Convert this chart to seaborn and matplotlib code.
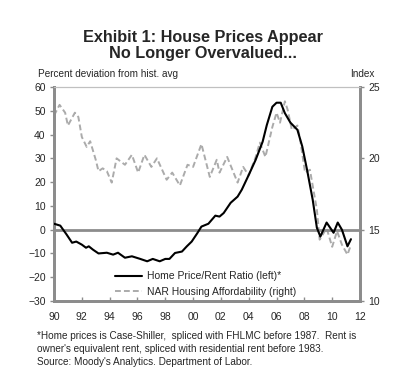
import matplotlib
matplotlib.use("Agg")
import matplotlib.pyplot as plt
import seaborn as sns
import pandas as pd

# Home price / rent ratio, % deviation from historical average (left axis)
ratio_years = [1990.0, 1990.45, 1990.9, 1991.3, 1991.6, 1992.0, 1992.3, 1992.5, 1992.8,
               1993.2, 1993.8, 1994.25, 1994.6, 1995.1, 1995.6, 1996.2, 1996.7, 1997.1,
               1997.6, 1998.0, 1998.3, 1998.7, 1999.2, 1999.55, 1999.9, 2000.3, 2000.6,
               2001.1, 2001.6, 2001.9, 2002.2, 2002.7, 2003.2, 2003.5, 2004.0, 2004.5,
               2005.0, 2005.3, 2005.7, 2006.0, 2006.3, 2006.6, 2007.0, 2007.5, 2007.85,
               2008.2, 2008.6, 2008.9, 2009.15, 2009.6, 2010.1, 2010.4, 2010.7, 2011.1,
               2011.35]
ratio_vals = [2.5, 1.7, -2.0, -5.5, -5.0, -6.3, -7.6, -7.0, -8.4,
              -10.0, -9.7, -10.5, -9.7, -11.8, -11.2, -12.3, -13.3, -12.3,
              -13.3, -12.3, -12.3, -9.8, -9.2, -7.0, -5.0, -1.5, 1.3,
              2.5, 5.9, 5.5, 7.0, 11.3, 13.9, 16.8, 23.0, 29.4,
              37.0, 44.0, 51.7, 53.4, 53.4, 49.0, 45.0, 42.0, 35.0,
              25.0, 12.6, 0.8, -2.9, 3.0, -1.3, 3.0, 0.0, -7.0,
              -4.0]

# NAR housing affordability index (right axis)
nar_years = [1990.0, 1990.4, 1990.8, 1991.0, 1991.5, 1991.75, 1992.0, 1992.35, 1992.6,
             1993.0, 1993.2, 1993.5, 1993.8, 1994.15, 1994.5, 1995.1, 1995.6, 1996.05,
             1996.5, 1997.0, 1997.4, 1998.1, 1998.5, 1999.05, 1999.6, 2000.0, 2000.6,
             2001.2, 2001.7, 2001.9, 2002.45, 2003.2, 2003.6, 2004.0, 2004.5, 2004.8,
             2005.2, 2005.7, 2006.0, 2006.25, 2006.6, 2006.8, 2007.1, 2007.5, 2007.7,
             2008.05, 2008.4, 2008.9, 2009.1, 2009.6, 2010.0, 2010.35, 2010.7, 2011.1,
             2011.3]
nar_vals = [23.0, 23.75, 23.2, 22.3, 23.2, 22.9, 21.5, 20.8, 21.2,
            19.9, 19.1, 19.3, 19.1, 18.3, 20.0, 19.55, 20.25, 19.0,
            20.25, 19.4, 20.0, 18.5, 19.0, 18.1, 19.55, 19.4, 21.0,
            18.7, 19.9, 19.0, 20.1, 18.3, 19.4, 18.8, 20.1, 21.1,
            20.1, 22.2, 23.2, 22.5, 24.0, 23.4, 22.0, 22.3, 21.3,
            19.0, 19.2, 16.4, 14.3, 15.1, 13.8, 14.9, 13.95, 13.25,
            13.8]

x_ticks = list(range(1990, 2013, 2))
x_labels = [f"{y % 100:02d}" for y in x_ticks]

sns.set_style("white")
plt.rcParams["font.family"] = ["Liberation Sans", "DejaVu Sans"]

ratio_df = pd.DataFrame({"year": ratio_years, "value": ratio_vals})
nar_df = pd.DataFrame({"year": nar_years, "value": nar_vals})

fig = plt.figure(figsize=(3.98, 3.80), dpi=100)
ax = fig.add_axes([0.1357, 0.2079, 0.7688, 0.5631])
ax2 = ax.twinx()

grid_col = "#8c8c8c"
ax.axhline(0, color=grid_col, lw=2, zorder=1)

sns.lineplot(data=nar_df, x="year", y="value", ax=ax2, color="#ababab",
             lw=1.4, linestyle=(0, (3, 1.6)), zorder=2)
sns.lineplot(data=ratio_df, x="year", y="value", ax=ax, color="black",
             lw=1.5, zorder=3)
ax.set_zorder(ax2.get_zorder() + 1)
ax.patch.set_visible(False)

ax.set_xlim(1990, 2012)
ax.set_ylim(-30, 60)
ax2.set_ylim(10, 25)
ax.set_yticks(range(-30, 61, 10))
ax2.set_yticks([10, 15, 20, 25])
ax.set_xticks(x_ticks)
ax.set_xticklabels(x_labels)
ax.set_xlabel("")
ax.set_ylabel("")
ax2.set_ylabel("")

for a in (ax, ax2):
    for side in ("left", "right", "bottom"):
        a.spines[side].set_color(grid_col)
        a.spines[side].set_linewidth(2)
    a.spines["top"].set_color("#c0c0c0")
    a.spines["top"].set_linewidth(0.8)

ax.tick_params(axis="y", labelsize=7.5, length=3, width=1, color=grid_col,
               direction="out", pad=3, left=True)
ax2.tick_params(axis="y", labelsize=7.5, length=3, width=1, color=grid_col,
                direction="out", pad=3, right=True)
ax.tick_params(axis="x", labelsize=7.5, length=3, width=1, color=grid_col,
               direction="in", pad=8, bottom=True)

# legend combining both axes
h1 = ax.get_lines()[-1]
h2 = ax2.get_lines()[-1]
ax.legend([h1, h2], ["Home Price/Rent Ratio (left)*", "NAR Housing Affordability (right)"],
          loc="lower left", bbox_to_anchor=(0.17, -0.025), frameon=False,
          fontsize=7.5, handlelength=2.6, handletextpad=0.4, labelspacing=0.55)

fig.text(0.51, 0.88, "Exhibit 1: House Prices Appear\nNo Longer Overvalued...",
         ha="center", va="center", fontsize=11.7, fontweight="bold", linespacing=1.05)
fig.text(0.095, 0.805, "Percent deviation from hist. avg", ha="left", va="center",
         fontsize=7.2)
fig.text(0.94, 0.805, "Index", ha="right", va="center", fontsize=7.2)

fig.text(0.093, 0.082,
         "*Home prices is Case-Shiller,  spliced with FHLMC before 1987.  Rent is\n"
         "owner's equivalent rent, spliced with residential rent before 1983.\n"
         "Source: Moody's Analytics. Department of Labor.",
         ha="left", va="center", fontsize=7.2, linespacing=1.4)

fig.savefig("out.png", dpi=100)
